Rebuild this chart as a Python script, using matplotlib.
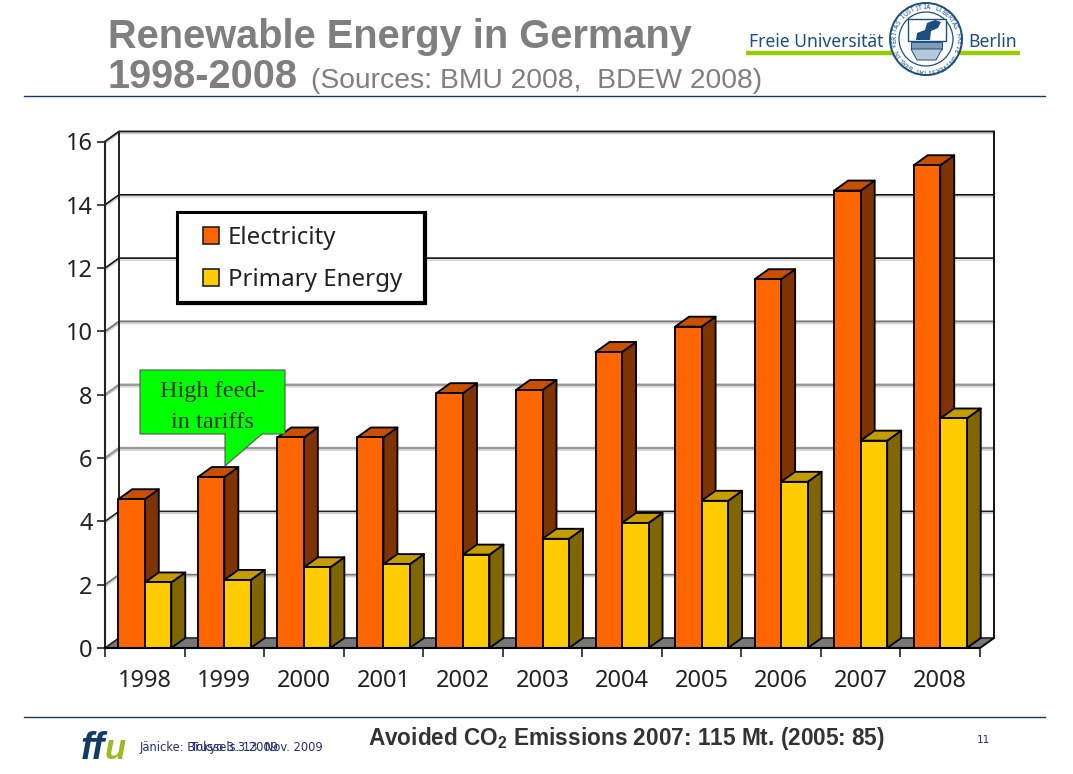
"""Renewable Energy in Germany 1998-2008 -- slide with a fake-3D bar chart."""

import matplotlib
matplotlib.use("Agg")
import matplotlib.pyplot as plt
import numpy as np
from matplotlib.patches import Circle, Polygon, Rectangle
from matplotlib.transforms import ScaledTranslation

plt.rcParams["font.family"] = ["Noto Sans", "DejaVu Sans"]
plt.rcParams["mathtext.fontset"] = "custom"
plt.rcParams["mathtext.bf"] = "Liberation Sans:bold"

W, H = 1073, 774
DPI = 100

YEARS = ["1998", "1999", "2000", "2001", "2002", "2003", "2004", "2005", "2006", "2007", "2008"]
ELECTRICITY = [4.7, 5.4, 6.65, 6.65, 8.05, 8.15, 9.35, 10.15, 11.65, 14.45, 15.25]
PRIMARY = [2.07, 2.15, 2.55, 2.65, 2.95, 3.45, 3.95, 4.65, 5.25, 6.55, 7.25]
SERIES_NAMES = ["Electricity", "Primary Energy"]
Y_TICKS = [0, 2, 4, 6, 8, 10, 12, 14, 16]
GRID_COLORS = ["#222222", "#777777", "#222222", "#999999", "#999999", "#777777", "#111111", "#111111", "#222222"]
GRID_WIDTHS = [1.0, 1.3, 1.2, 1.7, 1.7, 1.4, 1.2, 1.2, 1.4]

# front plane of the chart in pixels
AX_L, AX_R, AX_T, AX_B = 105, 980, 141.5, 648
DX = 14 / ((AX_R - AX_L) / 11)      # depth offset, category units
DY = 10 / ((AX_B - AX_T) / 16)      # depth offset, value units
BAR_W = 26.5 / ((AX_R - AX_L) / 11)

ORANGE = ("#ff6600", "#c85000", "#7f3300")
YELLOW = ("#ffcc00", "#c49c00", "#806600")
GREY = "#7f7f7f"
NAVY = "#123a66"
FU_BLUE = "#1c4f80"
LIME = "#99cc00"

fig = plt.figure(figsize=(W / DPI, H / DPI), dpi=DPI, facecolor="white")
ax = fig.add_axes([AX_L / W, 1 - AX_B / H, (AX_R - AX_L) / W, (AX_B - AX_T) / H])
ax.set_xlim(-0.5, 10.5)
ax.set_ylim(0, 16)
ax.patch.set_visible(False)
for side in ["top", "right", "bottom"]:
    ax.spines[side].set_visible(False)
ax.spines["left"].set_linewidth(1.5)
ax.spines["left"].set_color("#222222")
shadow = ax.transData + ScaledTranslation(0, -1.5 / 72, fig.dpi_scale_trans)


def box3d(x0, value, colors, z):
    # front, top and side of one bar
    x1 = x0 + BAR_W
    edge = dict(edgecolor="black", linewidth=1.35, joinstyle="round", clip_on=False, zorder=z)
    ax.add_patch(Polygon([(x1, 0), (x1 + DX, DY), (x1 + DX, value + DY), (x1, value)],
                         facecolor=colors[2], **edge))
    ax.add_patch(Polygon([(x0, value), (x0 + DX, value + DY), (x1 + DX, value + DY), (x1, value)],
                         facecolor=colors[1], **edge))
    ax.add_patch(Rectangle((x0, 0), BAR_W, value, facecolor=colors[0], **edge))


# floor and back wall
ax.add_patch(Polygon([(-0.5, 0), (-0.5 + DX, DY), (10.5 + DX, DY), (10.5, 0)],
                     facecolor="#777777", edgecolor="#222222", linewidth=1.2, clip_on=False, zorder=1))
for val, col, lw in zip(Y_TICKS, GRID_COLORS, GRID_WIDTHS):
    if val == 0:
        continue
    ax.plot([-0.5, -0.5 + DX, 10.5 + DX], [val, val + DY, val + DY], color="#d0d0d0",
            lw=1.0, clip_on=False, zorder=1, transform=shadow)
    ax.plot([-0.5, -0.5 + DX, 10.5 + DX], [val, val + DY, val + DY], color=col,
            lw=lw, clip_on=False, zorder=2)
ax.plot([-0.5 + DX, -0.5 + DX], [DY, 16 + DY], color="#222222", lw=1.4, clip_on=False, zorder=2)
ax.plot([10.5 + DX, 10.5 + DX], [DY, 16 + DY], color="#111111", lw=1.4, clip_on=False, zorder=2)
ax.plot([10.5, 10.5 + DX], [0, DY], color="#111111", lw=1.3, clip_on=False, zorder=2)
ax.plot([-0.5, 10.5], [0, 0], color="black", lw=1.5, clip_on=False, zorder=8)

for i, (el, pr) in enumerate(zip(ELECTRICITY, PRIMARY)):
    box3d(i - BAR_W, el, ORANGE, 3 + i * 0.1)
    box3d(i, pr, YELLOW, 3.05 + i * 0.1)

ax.set_yticks(Y_TICKS)
ax.set_xticks(np.arange(-0.5, 11, 1))
ax.set_xticklabels([])
ax.set_xticks(np.arange(11), labels=YEARS, minor=True)
ax.tick_params(axis="x", which="major", length=6.5, width=1.2, color="#222222")
ax.tick_params(axis="x", which="minor", length=0, pad=15, labelsize=17, labelcolor="#222222")
ax.tick_params(axis="y", length=6, width=1.2, color="#222222", pad=3, labelsize=17, labelcolor="#222222")

# overlay in reference pixels for slide furniture
ov = fig.add_axes([0, 0, 1, 1], zorder=5)
ov.set_xlim(0, W)
ov.set_ylim(H, 0)
ov.axis("off")

# legend box, right and bottom edges a bit heavier
ov.add_patch(Rectangle((177, 212), 248, 91, facecolor="white", edgecolor="black", linewidth=2.2))
ov.plot([425, 425, 177], [211, 303, 303], color="black", lw=3.0, solid_joinstyle="miter", solid_capstyle="butt")
for name, col, ty in zip(SERIES_NAMES, [ORANGE[0], YELLOW[0]], [236, 278]):
    ov.add_patch(Rectangle((203, ty - 9), 16, 17, facecolor=col, edgecolor="#222222", linewidth=1.2))
    ov.text(228, ty + 2, name, fontsize=17.3, color="#222222", va="center")

ov.text(108, 48, "Renewable Energy in Germany", family="Liberation Sans", fontweight="bold",
        fontsize=28.6, color=GREY, va="baseline")
ov.text(108, 88, "1998-2008", family="Liberation Sans", fontweight="bold",
        fontsize=28.6, color=GREY, va="baseline")
ov.text(311, 88, "(Sources: BMU 2008,  BDEW 2008)", family="Liberation Sans",
        fontsize=20.3, color=GREY, va="baseline")
ov.plot([24, 1045], [96, 96], color=NAVY, lw=1.0)
ov.plot([24, 1045], [717, 717], color=NAVY, lw=1.0)

# callout
ov.add_patch(Polygon([(140, 370), (285, 370), (285, 434), (262, 434), (225, 466), (225, 434), (140, 434)],
                     facecolor="#00ff00", edgecolor="#555555", linewidth=0.8))
ov.text(212, 392, "High feed-", family="Liberation Serif", fontsize=17.5, color="#333333",
        ha="center", va="center")
ov.text(212, 422, "in tariffs", family="Liberation Serif", fontsize=17.5, color="#333333",
        ha="center", va="center")

# Freie Universitaet logo
ov.plot([746, 1020], [53, 53], color=LIME, lw=3.2, solid_capstyle="butt", zorder=1)
ov.text(749, 47, "Freie Universität", fontsize=12.6, color=FU_BLUE, va="baseline", family="Noto Sans")
ov.text(968, 47, "Berlin", fontsize=12.6, color=FU_BLUE, va="baseline", family="Noto Sans")
sx, sy = 926, 39
ov.add_patch(Circle((sx, sy), 36, facecolor="white", edgecolor=FU_BLUE, lw=1.4, zorder=2))
ov.add_patch(Circle((sx, sy), 27, facecolor="white", edgecolor=FU_BLUE, lw=0.9, zorder=2))
SEAL = "VERITAS IUSTITIA LIBERTAS FREIE UNIVERSITAT BERLIN "
for n, ch in enumerate(SEAL):
    ang = np.pi - 2 * np.pi * n / len(SEAL) + 0.2
    ov.text(sx + 31.5 * np.cos(ang), sy - 31.5 * np.sin(ang), ch, fontsize=4.8, color=FU_BLUE,
            ha="center", va="center", rotation=np.degrees(ang) - 90, zorder=3, fontweight="bold")
ov.add_patch(Rectangle((908, 19), 38, 22, facecolor="white", edgecolor=FU_BLUE, lw=1, zorder=3))
ov.add_patch(Polygon([(916, 40), (917, 33), (925, 30), (927, 23), (935, 20), (941, 22), (938, 28), (931, 31), (930, 40)],
                     facecolor=FU_BLUE, edgecolor="none", zorder=4))
ov.add_patch(Rectangle((911, 42), 31, 7, facecolor="#7f9cb8", edgecolor=FU_BLUE, lw=0.7, zorder=3))
ov.add_patch(Polygon([(911, 49), (942, 49), (936, 60), (917, 60)],
                     facecolor="#b8c9da", edgecolor=FU_BLUE, lw=0.7, zorder=3))

# footer
ov.text(81, 759, "ff", family="Liberation Sans", fontweight="bold", style="italic",
        fontsize=27, color=NAVY, va="baseline")
ov.text(105, 759, "u", family="Liberation Sans", fontweight="bold", style="italic",
        fontsize=25, color="#99bb22", va="baseline")
ov.text(140, 751, "Jänicke: Brussels. 13. Nov. 2009", family="DejaVu Sans", fontsize=8.3, color="#24306e", va="baseline")
ov.text(191, 751, "Tokyo 3.3.2009", family="DejaVu Sans", fontsize=8.3, color="#24306e", va="baseline")
ov.text(368, 745, r"Avoided CO$_{\mathbf{2}}$ Emissions 2007: 115 Mt. (2005: 85)", family="Liberation Sans",
        fontweight="bold", fontsize=16.3, color="#333333", va="baseline")
ov.text(983, 743, "11", family="DejaVu Sans", fontsize=7.5, color="#24306e", ha="center", va="baseline")

fig.savefig("out.png", dpi=DPI, facecolor="white")
